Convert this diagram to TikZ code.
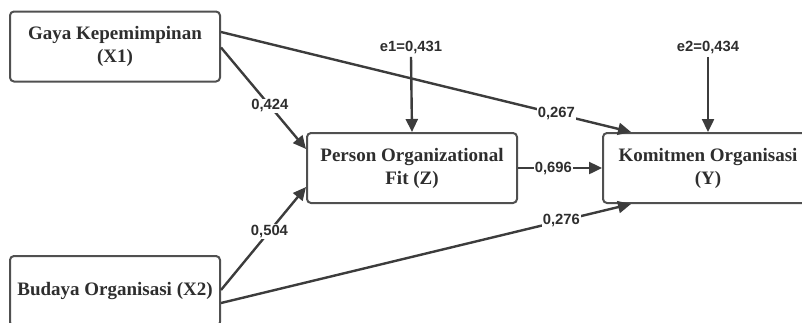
\documentclass[tikz,border=0pt]{standalone}
\usepackage{fontspec}
\setmainfont{Liberation Serif}
\setsansfont{Liberation Sans}
\usetikzlibrary{arrows.meta,calc}
\definecolor{ln}{HTML}{3C3C3C}
\definecolor{bx}{HTML}{505050}
\definecolor{tx}{HTML}{2E2E2E}
\begin{document}
\begin{tikzpicture}[x=1pt,y=1pt,
  varbox/.style={draw=bx,line width=2pt,rounded corners=4pt,fill=white,
    minimum width=210pt,minimum height=70pt,align=center,text=tx,
    font=\fontsize{19}{23}\selectfont\bfseries},
  path/.style={draw=ln,line width=2.4pt,-{Triangle[length=13pt,width=12pt]}},
  coef/.style={fill=white,inner sep=1pt,text=tx,font=\sffamily\bfseries\fontsize{14.8}{16}\selectfont},
  errlbl/.style={text=tx,font=\sffamily\bfseries\fontsize{14.8}{16}\selectfont}]
\useasboundingbox (0,0) rectangle (802,-322);
\node[varbox] (X1) at (115,-46.5) {Gaya Kepemimpinan\\(X1)};
\node[varbox] (X2) at (115,-291) {Budaya Organisasi (X2)};
\node[varbox] (Z) at (412,-168) {Person Organizational\\Fit (Z)};
\node[varbox] (Y) at (708,-168) {Komitmen Organisasi\\(Y)};
\node[errlbl] (e1) at (411,-47) {e1=0,431};
\node[errlbl] (e2) at (708,-47) {e2=0,434};
\draw[path] ([yshift=14.5pt]X1.east) -- node[coef,pos=0.818] {0,267} ([xshift=29pt]Y.north west);
\draw[path] ([yshift=-1pt]X1.east) -- node[coef,pos=0.575] {0,424} ([yshift=19pt]Z.west);
\draw[path] ([yshift=1pt]X2.east) -- node[coef,pos=0.57] {0,504} ([yshift=-19pt]Z.west);
\draw[path] ([yshift=-12pt]X2.east) -- node[coef,pos=0.83] {0,276} ([xshift=29pt]Y.south west);
\draw[path] (Z.east) -- node[coef,pos=0.42] {0,696} (Y.west);
\draw[path] (e1.south) -- (Z.north);
\draw[path] (e2.south) -- (Y.north);
\end{tikzpicture}
\end{document}
